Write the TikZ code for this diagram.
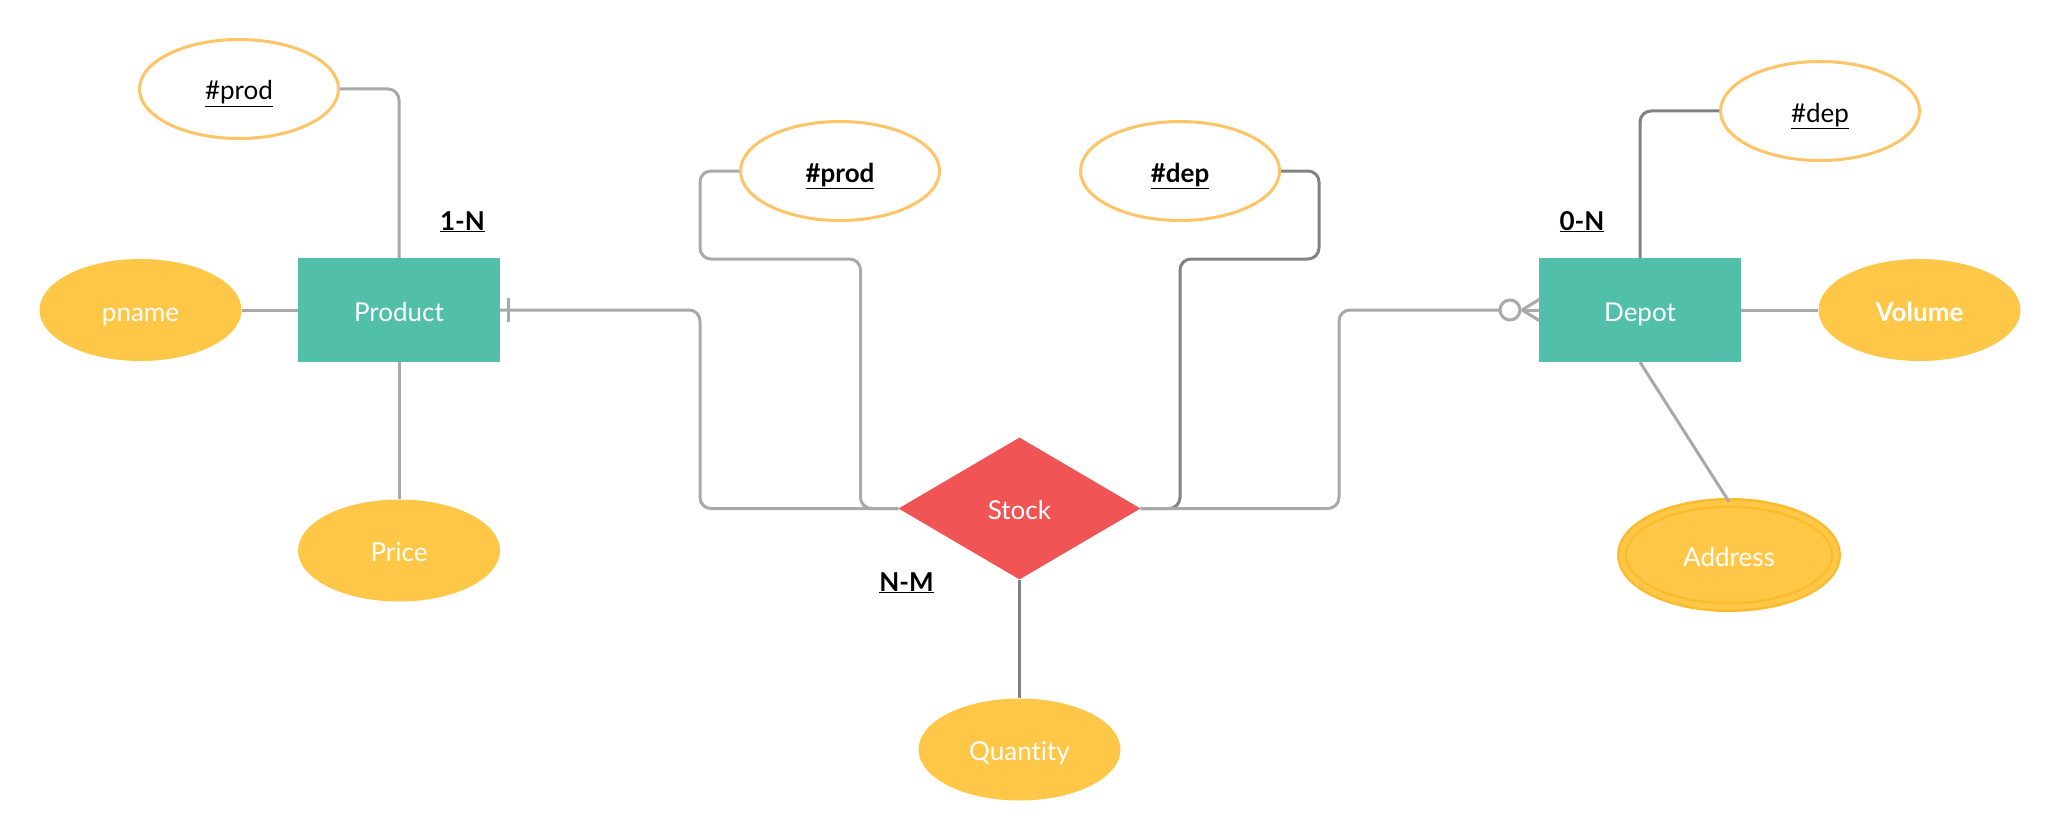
\documentclass[tikz,border=0pt]{standalone}
\usepackage{fontspec}
\setmainfont{Lato}[Ligatures={NoCommon}]
\usetikzlibrary{shapes.geometric,calc}
\definecolor{entc}{HTML}{52BFAA}
\definecolor{yel}{HTML}{FFC748}
\definecolor{yelb}{HTML}{FFC466}
\definecolor{relc}{HTML}{F05454}
\definecolor{lgray}{HTML}{A9A9A9}
\definecolor{dgray}{HTML}{828282}
\definecolor{addrb}{HTML}{FBBB2C}
\tikzset{
  txt/.style={text height=22pt, text depth=0pt, font=\fontsize{26}{30}\selectfont},
  entity/.style={txt, rectangle, fill=entc, minimum width=202pt, minimum height=104pt, inner sep=0pt, text=white},
  attr/.style={txt, ellipse, fill=yel, minimum width=202pt, minimum height=102pt, inner sep=0pt, text=white},
  keyattr/.style={txt, ellipse, fill=white, draw=yelb, line width=3pt, minimum width=199pt, minimum height=99pt, inner sep=0pt, text=black},
  relation/.style={txt, diamond, fill=relc, minimum width=242pt, minimum height=142pt, inner sep=0pt, text=white},
  card/.style={txt, text=black, inner sep=0pt, font=\bfseries\fontsize{26}{30}\selectfont},
  conn/.style={draw=lgray, line width=3pt, rounded corners=11pt},
  dconn/.style={draw=dgray, line width=3pt, rounded corners=11pt},
}
\begin{document}
\begin{tikzpicture}[x=1pt,y=-1pt]
\useasboundingbox[fill=white] (0,0) rectangle (2060,840);

\coordinate (pjog) at (700,259);
\coordinate (pdown) at (860.5,508.5);
\coordinate (djog) at (1319,259);
\coordinate (ddown) at (1180,508.5);
\coordinate (prodturn) at (700,508.5);
\coordinate (depturn) at (1339,310);
\coordinate (circ) at (1510,310);
\coordinate (foot) at (1522,310);

\node[entity] (product) at (399,310) {Product};
\node[entity] (depot) at (1640,310) {Depot};
\node[attr] (pname) at (140.5,310) {pname};
\node[attr] (price) at (399,550.5) {Price};
\node[attr] (qty) at (1019.5,749.5) {Quantity};
\node[attr, font=\bfseries\fontsize{26}{30}\selectfont] (volume) at (1919.5,310) {Volume};
\node[attr, draw=addrb, line width=2.5pt, double=yel, double distance=5pt, minimum width=214pt, minimum height=104pt] (address) at (1729,555) {Address};
\node[keyattr] (pk1) at (239,89) {\underline{\#prod}};
\node[keyattr, font=\bfseries\fontsize{26}{30}\selectfont] (pk2) at (840,171) {\underline{\#prod}};
\node[keyattr, font=\bfseries\fontsize{26}{30}\selectfont] (dk2) at (1180,171) {\underline{\#dep}};
\node[keyattr] (dk1) at (1820,111) {\underline{\#dep}};
\node[relation] (stock) at (1019.5,508.5) {Stock};

\node[card] (c1) at (462.5,219) {\underline{1-N}};
\node[card] (c0) at (1582,219) {\underline{0-N}};
\node[card] (cnm) at (906.5,580) {\underline{N-M}};

\draw[conn] (pk1.east) -| (product.north);
\draw[conn] (pname.east) -- (product.west);
\draw[conn] (product.south) -- (price.north);
\draw[conn] (pk2.west) -| (pjog) -| (pdown) -- (stock.west);
\draw[dconn] (dk2.east) -| (djog) -| (ddown) -- (stock.east);
\draw[conn] (product.east) -| (prodturn) -- (stock.west);
\draw[conn] (stock.east) -| (depturn) -- ($(circ)+(-10,0)$);
\draw[dconn] (stock.south) -- (qty.north);
\draw[dconn] (dk1.west) -| (depot.north);
\draw[conn] (depot.east) -- (volume.west);
\draw[conn] (depot.south) -- (address.north);
\draw[lgray, line width=3pt] (circ) circle (10pt);
\draw[lgray, line width=3pt] (foot) -- (depot.west);
\draw[lgray, line width=3pt] (foot) -- (1540,299);
\draw[lgray, line width=3pt] (foot) -- (1540,321);
\draw[lgray, line width=3pt] (508,298) -- (508,322);
\end{tikzpicture}
\end{document}
